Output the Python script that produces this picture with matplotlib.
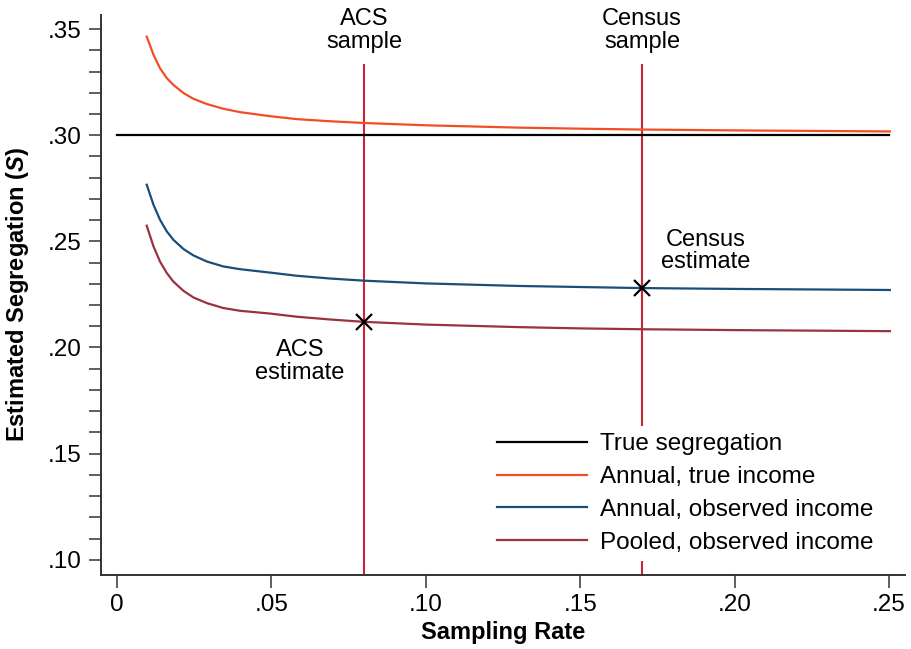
import numpy as np
import matplotlib.pyplot as plt

plt.rcParams['font.family'] = ['Liberation Sans', 'DejaVu Sans']
plt.rcParams['mathtext.fontset'] = 'custom'
plt.rcParams['mathtext.it'] = 'Liberation Sans:italic:bold'

rate = [0.0096, 0.0118, 0.0139, 0.0161, 0.0182, 0.0215, 0.0247, 0.0291, 0.0344,
        0.0398, 0.0495, 0.0582, 0.069, 0.0798, 0.10, 0.13, 0.15, 0.17, 0.20, 0.2503]
annual_true = [0.3465, 0.3379, 0.3316, 0.3269, 0.3238, 0.3199, 0.3172, 0.3147, 0.3125,
               0.3109, 0.3090, 0.3076, 0.3066, 0.3058, 0.3047, 0.3036, 0.3031, 0.3027,
               0.3023, 0.3018]
annual_obs = [0.2767, 0.2672, 0.2602, 0.2547, 0.2508, 0.2464, 0.2434, 0.2405, 0.2382,
              0.2369, 0.2353, 0.2338, 0.2325, 0.2315, 0.2302, 0.2290, 0.2285, 0.2280,
              0.2276, 0.2271]
pooled_obs = [0.2574, 0.2476, 0.2405, 0.2351, 0.2311, 0.2267, 0.2236, 0.2209, 0.2186,
              0.2173, 0.2160, 0.2145, 0.2132, 0.2121, 0.2108, 0.2096, 0.2090, 0.2086,
              0.2082, 0.2077]
true_seg = 0.30

acs_rate, census_rate = 0.08, 0.17
acs_est, census_est = 0.212, 0.228

xticks = [0, 0.05, 0.10, 0.15, 0.20, 0.25]
xticklabels = ["0", ".05", ".10", ".15", ".20", ".25"]
yticks = [0.10, 0.15, 0.20, 0.25, 0.30, 0.35]
yticklabels = [".10", ".15", ".20", ".25", ".30", ".35"]

fig = plt.figure(figsize=(9.11, 6.49), dpi=100)
ax = fig.add_axes([0.1109, 0.114, 0.8825, 0.863])

fs = 17.5
ylo, yhi = 0.0928, 0.3567
vtop = (0.333 - ylo) / (yhi - ylo)
ax.axvline(acs_rate, ymin=0, ymax=vtop, color='#C8243A', lw=1.5, zorder=1)
ax.axvline(census_rate, ymin=0, ymax=vtop, color='#C8243A', lw=1.5, zorder=1)

ax.plot([0, 0.25], [true_seg, true_seg], color='black', lw=1.6, label='True segregation')
ax.plot(rate, annual_true, color='#F24E25', lw=1.6, label='Annual, true income')
ax.plot(rate, annual_obs, color='#1A4E78', lw=1.6, label='Annual, observed income')
ax.plot(rate, pooled_obs, color='#983340', lw=1.6, label='Pooled, observed income')

ax.plot([acs_rate, census_rate], [acs_est, census_est], ls='none', marker='x',
        color='black', ms=11, mew=1.6, zorder=4)

ax.text(acs_rate, 0.3495, "ACS\nsample", ha='center', va='center', fontsize=17, linespacing=1.05)
ax.text(census_rate, 0.3495, "Census\nsample", ha='center', va='center', fontsize=17, linespacing=1.05)
ax.text(0.0593, 0.1935, "ACS\nestimate", ha='center', va='center', fontsize=17, linespacing=1.05)
ax.text(0.1905, 0.2455, "Census\nestimate", ha='center', va='center', fontsize=17, linespacing=1.05)

ax.set_xlim(-0.0052, 0.2552)
ax.set_ylim(ylo, yhi)
ax.set_xticks(xticks)
ax.set_xticklabels(xticklabels)
ax.set_yticks(yticks)
ax.set_yticklabels(yticklabels)
ax.set_yticks(np.arange(0.10, 0.355, 0.01), minor=True)
ax.tick_params(axis='both', which='both', labelsize=fs, length=9, width=1.1, color='#333333', pad=5)
ax.tick_params(axis='x', which='minor', bottom=False)

for s in ['top', 'right']:
    ax.spines[s].set_visible(False)
for s in ['left', 'bottom']:
    ax.spines[s].set_linewidth(1.4)
    ax.spines[s].set_color('#333333')

ax.set_xlabel("Sampling Rate", fontsize=17, fontweight='bold', labelpad=3)
ax.set_ylabel("Estimated Segregation ($\\mathit{S}$)", fontsize=17, fontweight='bold', labelpad=12)

leg = ax.legend(loc='center', bbox_to_anchor=(0.7265, 0.1455), fontsize=fs, frameon=True,
                facecolor='white', edgecolor='none', framealpha=1, fancybox=False,
                handlelength=3.7, handletextpad=0.55, labelspacing=0.44, borderpad=0.3)

fig.savefig("out.png", dpi=100)
